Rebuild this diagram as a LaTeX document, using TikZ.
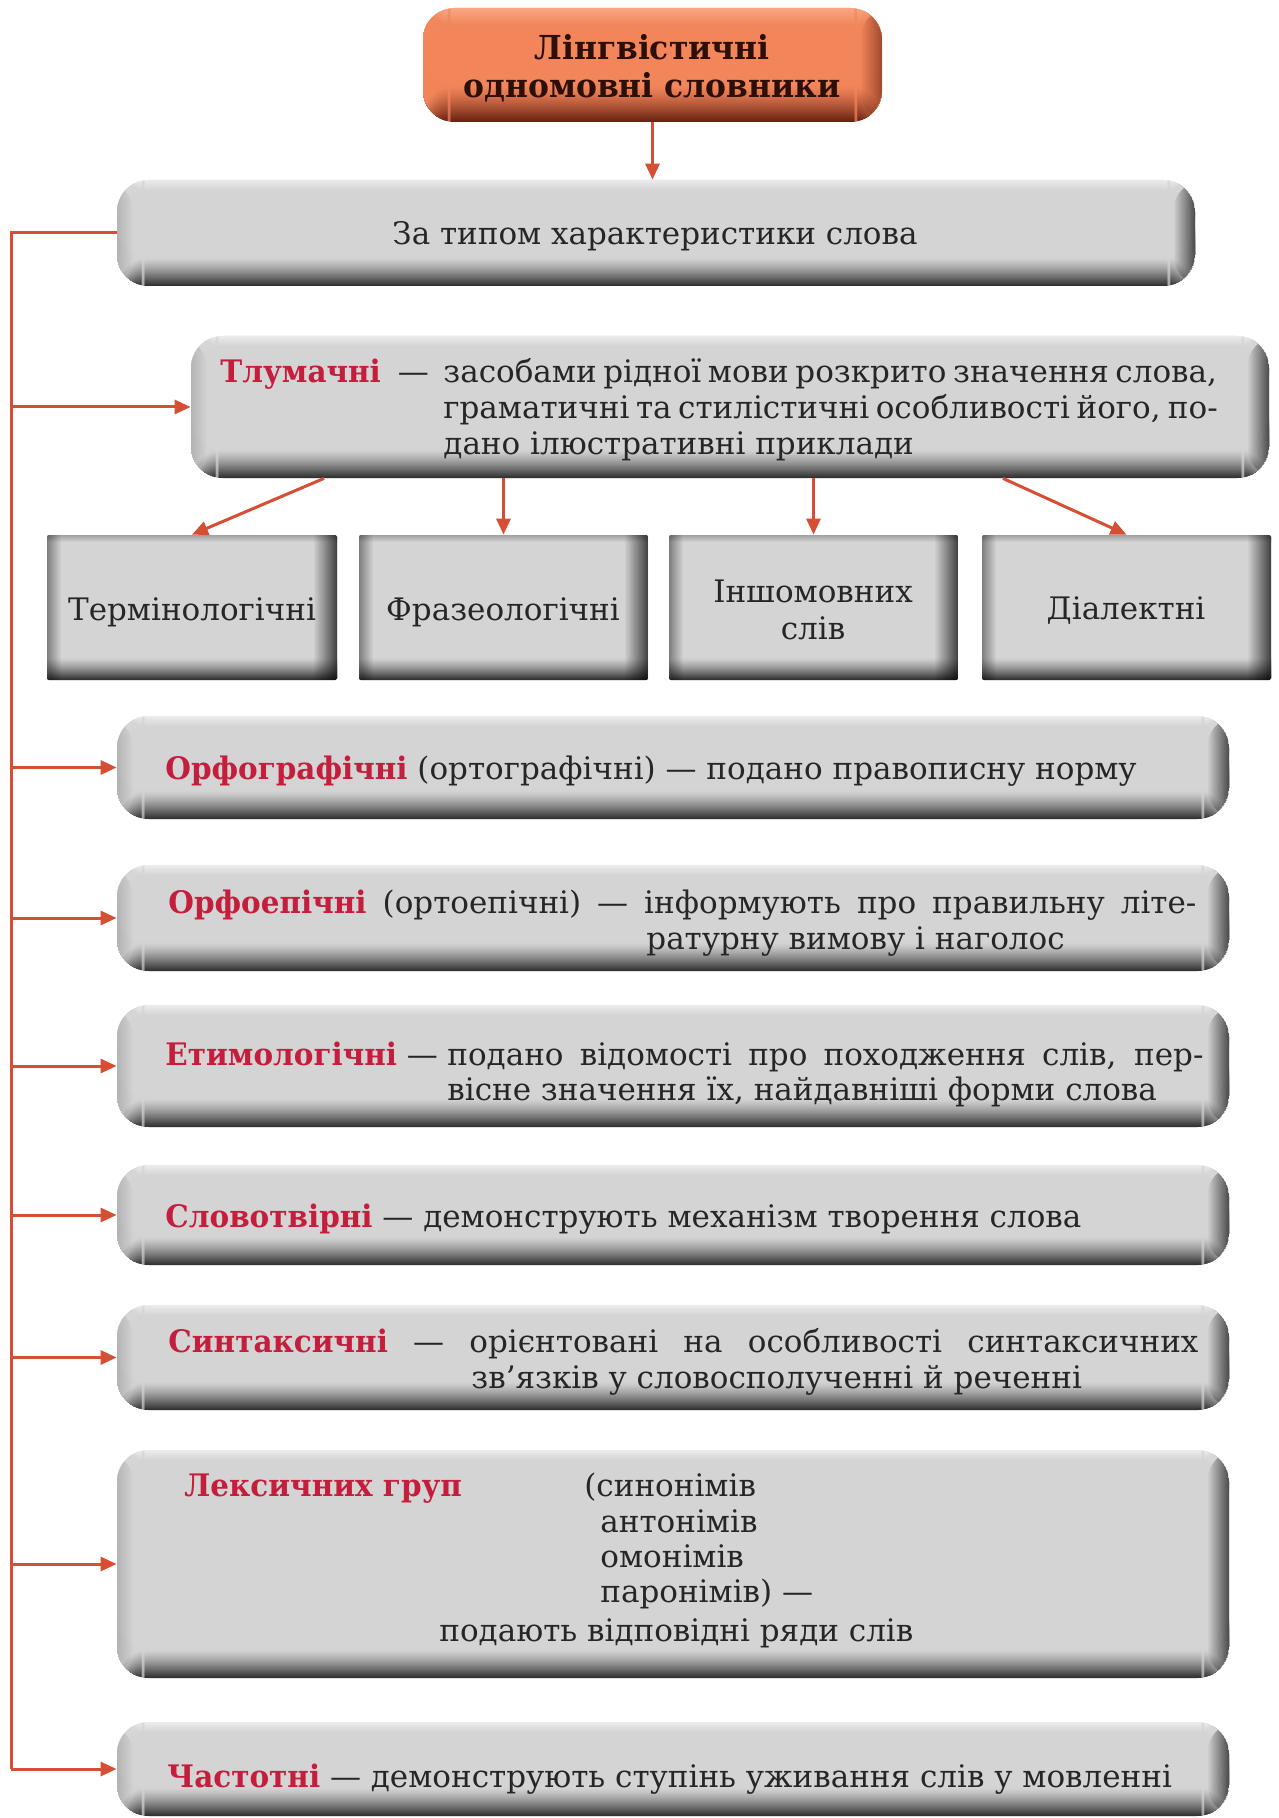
\documentclass[tikz,border=0pt]{standalone}
\usepackage{fontspec}
\setmainfont{DejaVu Serif}[BoldFeatures={FakeStretch=0.95}]
\usetikzlibrary{arrows.meta,fit,fadings}
\definecolor{boxgray}{RGB}{212,212,212}
\definecolor{boxlight}{RGB}{236,236,236}
\definecolor{boxdark}{RGB}{50,50,50}
\definecolor{boxedge}{RGB}{160,160,160}
\definecolor{orng}{RGB}{242,133,90}
\definecolor{ornglight}{RGB}{248,168,132}
\definecolor{orngdark}{RGB}{105,34,16}
\definecolor{linec}{RGB}{214,78,52}
\definecolor{termred}{RGB}{196,30,60}
\definecolor{txtc}{RGB}{38,38,38}
\definecolor{toptxt}{RGB}{45,15,10}
\newcommand\mainsz{\fontsize{15.5pt}{18pt}\selectfont}
\newcommand\term[1]{\textcolor{termred}{\textbf{#1}}}
% bottom band of thin strips: #1 dark colour, #2 body colour, #3 last strip index (strips of 0.5pt)
\newcommand\botstrips[3]{%
  \foreach \i in {0,...,#3}{%
    \pgfmathsetmacro\p{100*(1-\i/(#3+1))^1.3}%
    \fill[#1!\p!#2] ([yshift=\i*0.5pt]path picture bounding box.south west)
      rectangle ([yshift=\i*0.5pt+0.6pt]path picture bounding box.south east);
  }}
% top band of thin strips: #1 edge colour, #2 body colour, #3 last strip index
\newcommand\topstrips[3]{%
  \foreach \i in {0,...,#3}{%
    \pgfmathsetmacro\p{100*(1-\i/(#3+1))}%
    \fill[#1!\p!#2] ([yshift=-\i*0.5pt]path picture bounding box.north west)
      rectangle ([yshift=-\i*0.5pt-0.6pt]path picture bounding box.north east);
  }}
\tikzset{
  gbox/.style={inner sep=0pt, draw=none, fill=boxgray, rounded corners=16pt,
    path picture={
      \topstrips{boxlight}{boxgray}{9}
      \botstrips{boxdark}{boxgray}{27}
      \fill[black, path fading=west, fill opacity=0.65]
        ([xshift=-11pt]path picture bounding box.north east) rectangle (path picture bounding box.south east);
      \fill[black, path fading=east, fill opacity=0.15]
        (path picture bounding box.north west) rectangle ([xshift=8pt]path picture bounding box.south west);
    }},
  sbox/.style={inner sep=0pt, draw=none, fill=boxgray, rounded corners=1pt,
    path picture={
      \topstrips{boxedge}{boxgray}{6}
      \botstrips{boxdark}{boxgray}{21}
      \fill[black, path fading=west, fill opacity=0.7]
        ([xshift=-12pt]path picture bounding box.north east) rectangle (path picture bounding box.south east);
      \fill[black, path fading=east, fill opacity=0.4]
        (path picture bounding box.north west) rectangle ([xshift=7pt]path picture bounding box.south west);
    }},
  obox/.style={inner sep=0pt, draw=none, fill=orng, rounded corners=16pt,
    path picture={
      \topstrips{ornglight}{orng}{16}
      \botstrips{orngdark}{orng}{35}
      \fill[orngdark, path fading=west, fill opacity=0.6]
        ([xshift=-11pt]path picture bounding box.north east) rectangle (path picture bounding box.south east);
    }},
  txt/.style={inner sep=0pt, anchor=base west, text=txtc, font=\mainsz},
  ctxt/.style={txt, anchor=base},
  conn/.style={draw=linec, line width=1.5pt},
  arr/.style={conn, -{Triangle[length=8pt,width=7pt]}},
}
\begin{document}
\begin{tikzpicture}[x=0.5pt,y=-0.5pt]
\useasboundingbox[fill=white] (0,0) rectangle (1278,1818);
% boxes
\node[obox, fit={(423,8) (882,122)}] (top) {};
\node[gbox, fit={(117,180) (1195,286)}] (A) {};
\node[gbox, fit={(191,336) (1269,478)}] (tlum) {};
\node[sbox, fit={(47,535) (337,680)}] (term) {};
\node[sbox, fit={(359,535) (648,680)}] (fraz) {};
\node[sbox, fit={(669,535) (958,680)}] (insh) {};
\node[sbox, fit={(982,535) (1271,680)}] (dial) {};
\node[gbox, fit={(117,716) (1229,819)}] (orfog) {};
\node[gbox, fit={(117,865) (1229,971)}] (orfoep) {};
\node[gbox, fit={(117,1005) (1229,1127)}] (etym) {};
\node[gbox, fit={(117,1165) (1229,1265)}] (slovo) {};
\node[gbox, fit={(117,1305) (1229,1410)}] (syntax) {};
\node[gbox, fit={(117,1450) (1229,1678)}] (leks) {};
\node[gbox, fit={(117,1722) (1229,1816)}] (chast) {};
% texts
\node[ctxt, text=toptxt, font=\fontsize{16.5pt}{20pt}\selectfont\bfseries] (top1) at (652,60) {Лінгвістичні};
\node[ctxt, text=toptxt, font=\fontsize{16.5pt}{20pt}\selectfont\bfseries] (top2) at (652,98) {одномовні словники};
\node[ctxt] (Atxt) at (655,245) {За типом характеристики слова};
\node[txt] (tlumT) at (220,383) {\term{Тлумачні}\hspace{8.5pt}—};
\node[txt] (tlum1) at (443,383) {\makebox[385pt][s]{засобами рідної мови розкрито значення слова,}};
\node[txt] (tlum2) at (443,419) {\makebox[385pt][s]{граматичні та стилістичні особливості його, по-}};
\node[txt] (tlum3) at (443,455) {дано ілюстративні приклади};
\node[ctxt] (termtxt) at (192,620) {Термінологічні};
\node[ctxt] (fraztxt) at (503,620) {Фразеологічні};
\node[ctxt] (insh1) at (813,602) {Іншомовних};
\node[ctxt] (insh2) at (813,639) {слів};
\node[ctxt] (dialtxt) at (1126,619) {Діалектні};
\node[txt] (orfogtxt) at (165,779) {\term{Орфографічні} (ортографічні) — подано правописну норму};
\node[txt] (orfoep1) at (168,913) {\makebox[514pt][s]{\term{Орфоепічні} (ортоепічні) — інформують про правильну літе-}};
\node[txt] (orfoep2) at (646,949) {ратурну вимову і наголос};
\node[txt] (etymT) at (165,1065) {\term{Етимологічні} —};
\node[txt] (etym1) at (447,1065) {\makebox[378pt][s]{подано відомості про походження слів, пер-}};
\node[txt] (etym2) at (447,1100) {вісне значення їх, найдавніші форми слова};
\node[txt] (slovotxt) at (165,1227) {\term{Словотвірні} — демонструють механізм творення слова};
\node[txt] (syn1) at (168,1352) {\makebox[515pt][s]{\term{Синтаксичні} — орієнтовані на особливості синтаксичних}};
\node[txt] (syn2) at (471,1388) {зв’язків у словосполученні й реченні};
\node[txt] (leksT) at (184,1496) {\term{Лексичних груп}};
\node[txt] (leks1) at (584,1496) {(синонімів};
\node[txt] (leks2) at (600,1532) {антонімів};
\node[txt] (leks3) at (600,1567) {омонімів};
\node[txt] (leks4) at (600,1602) {паронімів) —};
\node[txt] (leks5) at (439,1641) {подають відповідні ряди слів};
\node[txt] (chasttxt) at (167,1787) {\term{Частотні} — демонструють ступінь уживання слів у мовленні};
% connectors
\coordinate (spx) at (11,0);
\coordinate (t1x) at (324,0);
\coordinate (t4x) at (1003,0);
\draw[arr] (top.south) -- (top.south |- A.north);
\draw[conn] (A.west) -- (A.west -| spx) -- (spx |- chast.west);
\foreach \b in {tlum,orfog,orfoep,etym,slovo,syntax,leks,chast}
  \draw[arr] (spx |- \b.west) -- (\b.west);
\draw[arr] (tlum.south -| t1x) -- (term.north);
\draw[arr] (fraz.north |- tlum.south) -- (fraz.north);
\draw[arr] (insh.north |- tlum.south) -- (insh.north);
\draw[arr] (tlum.south -| t4x) -- (dial.north);
\end{tikzpicture}
\end{document}
